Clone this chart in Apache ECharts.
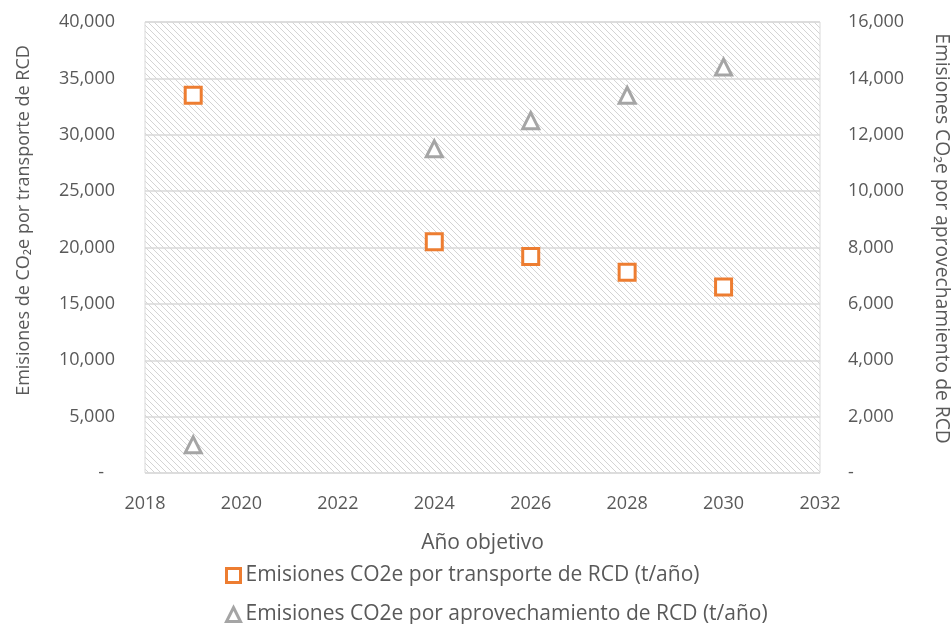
<!DOCTYPE html>
<html>
<head>
<meta charset="utf-8">
<script src="https://cdn.jsdelivr.net/npm/echarts@6/dist/echarts.min.js"></script>
<style>html,body{margin:0;padding:0;background:#fff}#c{width:951px;height:624px}</style>
</head>
<body>
<div id="c"></div>
<script>
const years = [2019, 2024, 2026, 2028, 2030];
const transporte = [33500, 20500, 19200, 17800, 16500];
const aprovechamiento = [1000, 11500, 12500, 13400, 14400];
const seriesNames = ['Emisiones CO2e por transporte de RCD (t/año)', 'Emisiones CO2e por aprovechamiento de RCD (t/año)'];

const pc = document.createElement('canvas');
pc.width = 6; pc.height = 6;
const g = pc.getContext('2d');
g.fillStyle = '#ffffff'; g.fillRect(0,0,6,6);
g.strokeStyle = '#d4d4d4'; g.lineWidth = 1;
g.beginPath();
g.moveTo(-1,-1); g.lineTo(7,7);
g.moveTo(-7,-1); g.lineTo(1,7);
g.moveTo(5,-1); g.lineTo(13,7);
g.stroke();

const FONT = 'Open Sans';
const txt = '#595959';
const fmtL = v => v === 0 ? '{d|-}' : v.toLocaleString('en-US');
const fmtR = v => v === 0 ? '-' : v.toLocaleString('en-US');

const chart = echarts.init(document.getElementById('c'), null, {renderer: 'canvas'});
chart.setOption({
  animation: false,
  textStyle: {fontFamily: FONT},
  grid: {left: 145, right: 131, top: 22, bottom: 151, show: true, outerBoundsMode: 'none', containLabel: false,
    backgroundColor: {image: pc, repeat: 'repeat'}, borderColor: '#d9d9d9', borderWidth: 1},
  xAxis: {type: 'value', min: 2018, max: 2032, interval: 2,
    name: 'Año objetivo', nameLocation: 'middle', nameGap: 60,
    nameTextStyle: {color: txt, fontSize: 21, fontFamily: FONT, verticalAlign: 'top'},
    axisLine: {show: false}, axisTick: {show: false}, splitLine: {show: false},
    axisLabel: {color: txt, fontSize: 18, margin: 22, fontFamily: FONT, formatter: v => String(v)}},
  yAxis: [
    {type: 'value', min: 0, max: 40000, interval: 5000, position: 'left',
     name: 'Emisiones de CO₂e por transporte de RCD', nameLocation: 'middle', nameGap: 112, nameRotate: 90,
     nameTextStyle: {color: txt, fontSize: 18, fontFamily: FONT, padding: [0, 0, 0, 54]},
     axisLine: {show: false}, axisTick: {show: false},
     splitLine: {show: true, lineStyle: {color: '#d9d9d9', width: 1.5}},
     axisLabel: {color: txt, fontSize: 18, margin: 30, formatter: fmtL, fontFamily: FONT,
       rich: {d: {color: txt, fontSize: 18, fontFamily: FONT, padding: [0, 11, 0, 0]}}}},
    {type: 'value', min: 0, max: 16000, interval: 2000, position: 'right',
     name: 'Emisiones CO₂e por aprovechamiento de RCD', nameLocation: 'middle', nameGap: 112, nameRotate: -90,
     nameTextStyle: {color: txt, fontSize: 19.3, fontFamily: FONT, padding: [0, 18, 0, 0]},
     axisLine: {show: false}, axisTick: {show: false}, splitLine: {show: false},
     axisLabel: {color: txt, fontSize: 18, margin: 28, formatter: fmtR, fontFamily: FONT}}
  ],
  legend: [
    {orient: 'horizontal', left: 220, top: 560, itemWidth: 14, itemHeight: 14,
     textStyle: {color: txt, fontSize: 21, fontFamily: FONT},
     data: [{name: seriesNames[0], icon: 'rect', itemStyle: {color: '#fff', borderColor: '#ED7D31', borderWidth: 3}}]},
    {orient: 'horizontal', left: 220, top: 599, itemWidth: 14, itemHeight: 14,
     textStyle: {color: txt, fontSize: 21, fontFamily: FONT},
     data: [{name: seriesNames[1], icon: 'triangle', itemStyle: {color: '#fff', borderColor: '#A5A5A5', borderWidth: 3}}]}
  ],
  series: [
    {name: seriesNames[0], type: 'scatter', yAxisIndex: 0, symbol: 'rect', symbolSize: 16,
     itemStyle: {color: '#fff', borderColor: '#ED7D31', borderWidth: 3, opacity: 1},
     data: years.map((y, i) => [y, transporte[i]])},
    {name: seriesNames[1], type: 'scatter', yAxisIndex: 1, symbol: 'triangle', symbolSize: 16,
     itemStyle: {color: '#fff', borderColor: '#A5A5A5', borderWidth: 3, opacity: 1},
     data: years.map((y, i) => [y, aprovechamiento[i]])}
  ]
});
</script>
</body>
</html>
